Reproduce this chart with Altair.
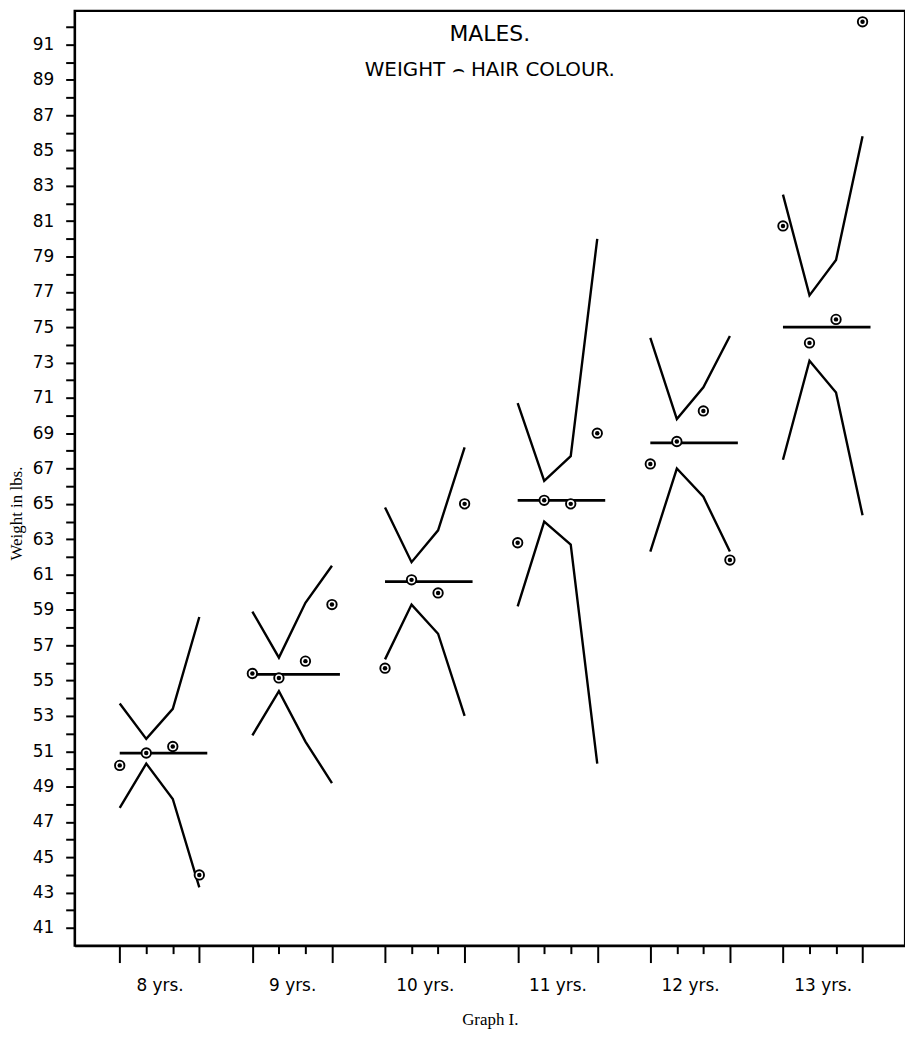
import altair as alt
import pandas as pd

# Age groups (x-axis categories)
groups = ["8 yrs.", "9 yrs.", "10 yrs.", "11 yrs.", "12 yrs.", "13 yrs."]

# Horizontal mean line per age group (lbs)
means = [50.9, 55.35, 60.6, 65.2, 68.45, 75.0]

# Upper bounding polyline per group (4 hair-colour classes)
upper = [
    [53.7, 51.7, 53.4, 58.6],
    [58.9, 56.3, 59.4, 61.5],
    [64.8, 61.7, 63.5, 68.2],
    [70.7, 66.3, 67.7, 80.0],
    [74.4, 69.8, 71.6, 74.5],
    [82.5, 76.8, 78.8, 85.8],
]

# Lower bounding polyline per group
lower = [
    [47.8, 50.3, 48.3, 43.3],
    [51.9, 54.4, 51.55, 49.2],
    [56.2, 59.3, 57.65, 53.0],
    [59.2, 64.0, 62.7, 50.3],
    [62.3, 67.0, 65.4, 62.3],
    [67.5, 73.1, 71.3, 64.35],
]

# Observed weights (circled dots) per group and hair-colour class
observed = [
    [50.2, 50.9, 51.27, 44.0],
    [55.4, 55.15, 56.1, 59.3],
    [55.7, 60.7, 59.96, 65.0],
    [62.8, 65.2, 65.0, 69.0],
    [67.26, 68.53, 70.26, 61.82],
    [80.73, 74.11, 75.44, 92.28],
]

n_classes = 4
slot = 5          # x-units reserved per age group
mean_span = 3.3   # mean line length in x-units

line_rows, dot_rows, mean_rows = [], [], []
for g, name in enumerate(groups):
    for k in range(n_classes):
        line_rows.append({"x": slot * g + k, "weight": upper[g][k], "line": f"{g}-upper"})
        line_rows.append({"x": slot * g + k, "weight": lower[g][k], "line": f"{g}-lower"})
        dot_rows.append({"x": slot * g + k, "weight": observed[g][k]})
    mean_rows.append({"x": slot * g, "x2": slot * g + mean_span, "weight": means[g]})

lines_df = pd.DataFrame(line_rows)
dots_df = pd.DataFrame(dot_rows)
means_df = pd.DataFrame(mean_rows)

tick_vals = []
for g in range(len(groups)):
    tick_vals += [slot * g + k for k in range(n_classes)] + [slot * g + 1.5]
tick_vals = sorted(tick_vals)

group_js = "[" + ",".join("'" + s + "'" for s in groups) + "]"

x_axis = alt.Axis(
    values=tick_vals,
    labelExpr=f"(datum.value - 1.5) % 5 == 0 ? {group_js}[(datum.value - 1.5) / 5] : ''",
    tickSize={"condition": {"test": "datum.value % 5 == 1 || datum.value % 5 == 2", "value": 8}, "value": 17},
    tickOpacity={"condition": {"test": "datum.value % 1 != 0", "value": 0}, "value": 1},
    labelPadding=15,
    labelFontSize=17,
    labelFont="DejaVu Sans",
    labelOverlap=False,
    labelFlush=False,
    grid=False,
    title="Graph I.",
    titleFont="Liberation Serif",
    titleFontSize=17,
    titleFontWeight="normal",
    titlePadding=18,
)

y_axis = alt.Axis(
    values=list(range(41, 93)),
    labelExpr="datum.value % 2 == 1 ? datum.label : ''",
    tickSize=9,
    labelPadding=12,
    labelFontSize=17,
    labelFont="DejaVu Sans",
    labelOverlap=False,
    labelFlush=False,
    grid=False,
    title="Weight in lbs.",
    titleFont="Liberation Serif",
    titleFontSize=17,
    titleFontWeight="normal",
    titleX=-53,
    titleY=505,
    titleBaseline="alphabetic",
)

X = alt.X("x:Q", scale=alt.Scale(domain=[-1.7, 29.6], nice=False, zero=False), axis=x_axis)
Y = alt.Y("weight:Q", scale=alt.Scale(domain=[40, 92.9], nice=False, zero=False), axis=y_axis)

lines = alt.Chart(lines_df).mark_line(color="black", strokeWidth=2.4).encode(
    x=X, y=Y, detail="line:N", order="x:Q"
)

mean_lines = alt.Chart(means_df).mark_rule(color="black", strokeWidth=2.8).encode(
    x=X, x2="x2:Q", y=Y
)

rings = alt.Chart(dots_df).mark_point(
    shape="circle", size=90, filled=True, fill="white", stroke="black", strokeWidth=1.9, opacity=1
).encode(x=X, y=Y)

centres = alt.Chart(dots_df).mark_point(
    shape="circle", size=20, filled=True, color="black", opacity=1
).encode(x=X, y=Y)

chart = (
    alt.layer(lines, mean_lines, rings, centres)
    .properties(
        width=835,
        height=940,
        autosize=alt.AutoSizeParams(type="none"),
        padding={"left": 67, "top": 0, "right": 0, "bottom": 88},
        title=alt.TitleParams(
            text="MALES.",
            subtitle="WEIGHT \u2322 HAIR COLOUR.",
            orient="top",
            anchor="middle",
            offset=-71,
            font="DejaVu Sans",
            fontSize=22,
            fontWeight="normal",
            subtitleFont="DejaVu Sans",
            subtitleFontSize=20,
            subtitleColor="black",
            subtitlePadding=15,
            color="black",
        ),
    )
    .configure_view(stroke="black", strokeWidth=2.2)
    .configure_axis(
        domainColor="black",
        domainWidth=2,
        tickColor="black",
        tickWidth=2,
        labelColor="black",
        titleColor="black",
    )
)

chart.save("out.html", embed_options={"renderer": "svg", "actions": False})
